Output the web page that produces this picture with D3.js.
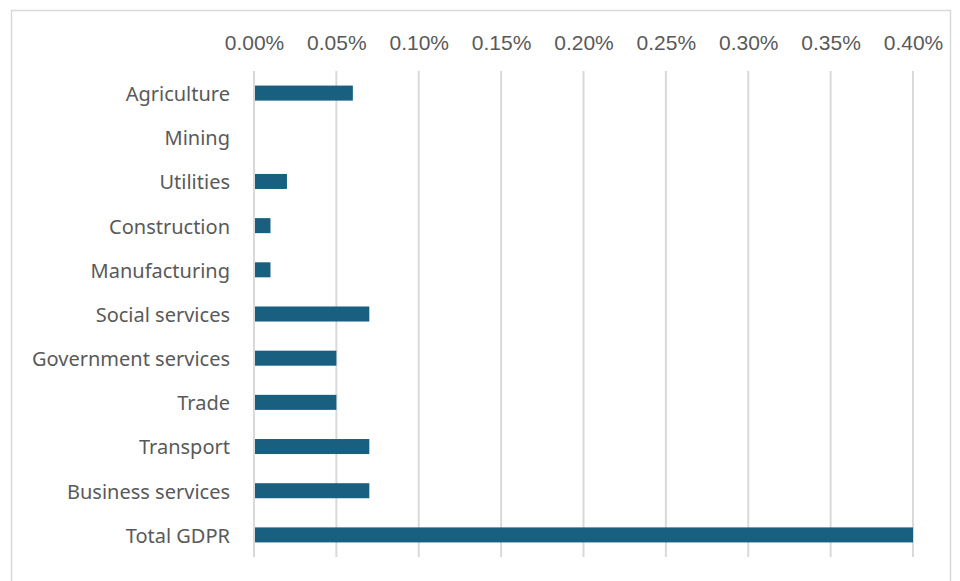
<!DOCTYPE html>
<html>
<head>
<meta charset="utf-8">
<script src="https://cdn.jsdelivr.net/npm/d3@7"></script>
<style>
  html, body { margin: 0; padding: 0; background: #fff; }
  svg { display: block; }
</style>
</head>
<body>
<svg id="chart" width="960" height="581"></svg>
<script>
// Sector contributions (percent)
const sectors = ["Agriculture", "Mining", "Utilities", "Construction", "Manufacturing",
  "Social services", "Government services", "Trade", "Transport", "Business services", "Total GDPR"];
const values = [0.06, 0, 0.02, 0.01, 0.01, 0.07, 0.05, 0.05, 0.07, 0.07, 0.40];
const tickValues = [0, 0.05, 0.10, 0.15, 0.20, 0.25, 0.30, 0.35, 0.40];

const svg = d3.select("#chart");

// outer frame
svg.append("rect")
  .attr("x", 11.5).attr("y", 10.5)
  .attr("width", 939).attr("height", 600)
  .attr("fill", "#fff").attr("stroke", "#d9d9d9").attr("stroke-width", 1.5);

const x = d3.scaleLinear().domain([0, 0.40]).range([254, 913]);
const y = d3.scaleBand().domain(sectors).range([71, 557]).paddingInner(0.66).paddingOuter(0.33);

// vertical gridlines
svg.append("g").selectAll("line").data(tickValues).join("line")
  .attr("x1", d => x(d)).attr("x2", d => x(d))
  .attr("y1", 71).attr("y2", 557)
  .attr("stroke", "#d9d9d9").attr("stroke-width", 2);

// top axis labels
const xAxis = d3.axisTop(x).tickValues(tickValues).tickSize(0).tickPadding(0)
  .tickFormat(d => d.toFixed(2) + "%");
const gx = svg.append("g").attr("transform", "translate(0,50)").call(xAxis);
gx.select(".domain").remove();
gx.selectAll("text")
  .attr("font-family", "'Liberation Sans', Arial, sans-serif")
  .attr("font-size", 21).attr("fill", "#595959").attr("dy", 0);

// category labels
const yAxis = d3.axisLeft(y).tickSize(0).tickPadding(24);
const gy = svg.append("g").attr("transform", "translate(254,1.5)").call(yAxis);
gy.select(".domain").remove();
gy.selectAll("text")
  .attr("font-family", "'Noto Sans', sans-serif")
  .attr("font-size", 20).attr("fill", "#595959");

// bars
svg.append("g").selectAll("rect").data(values).join("rect")
  .attr("x", x(0) + 1)
  .attr("y", (d, i) => y(sectors[i]))
  .attr("width", d => Math.max(0, x(d) - x(0) - 1))
  .attr("height", y.bandwidth())
  .attr("fill", "#185f80");
</script>
</body>
</html>
